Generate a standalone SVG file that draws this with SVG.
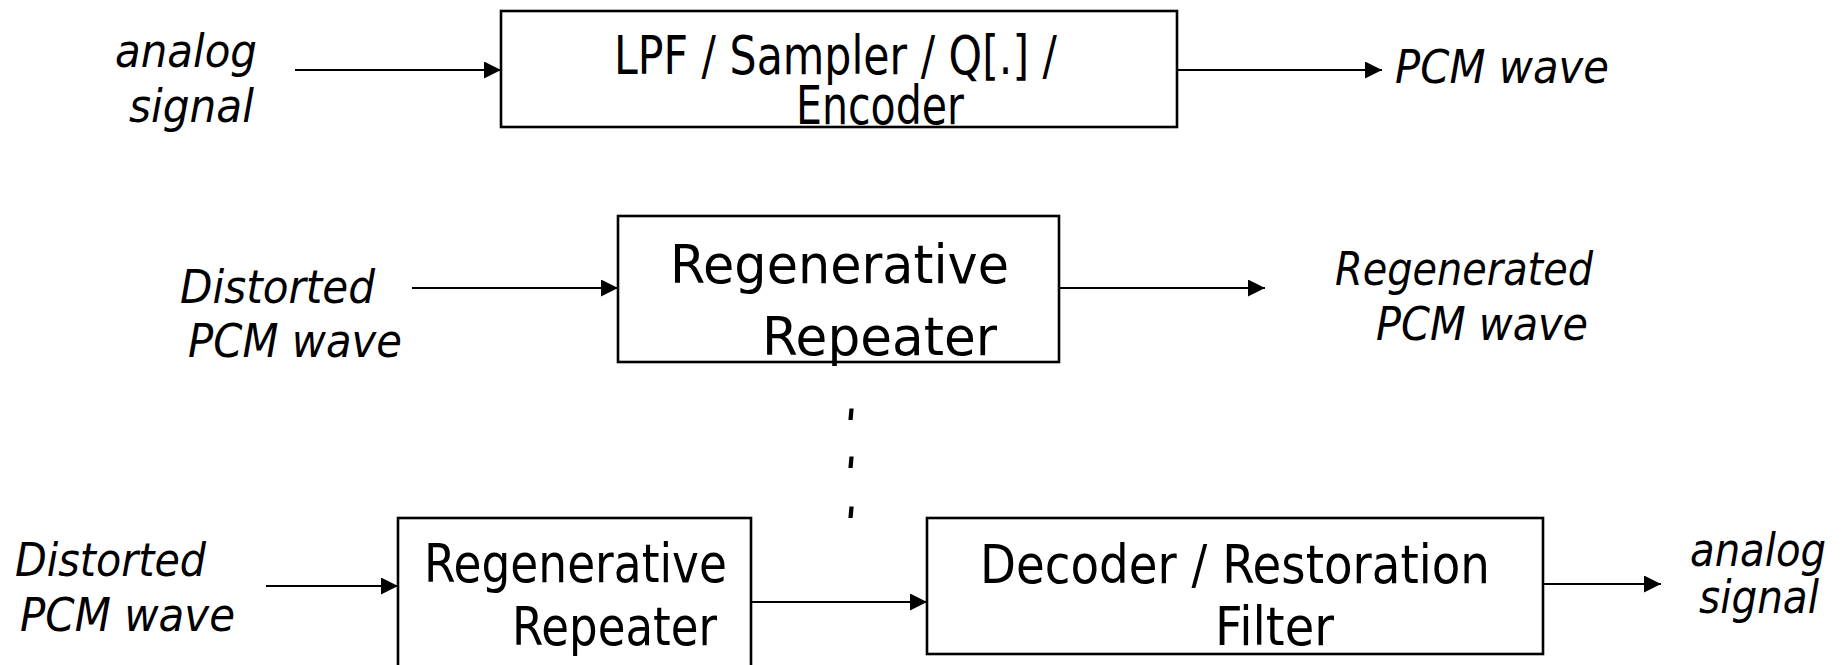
<svg xmlns="http://www.w3.org/2000/svg" width="1843" height="665" viewBox="0 0 1843 665">
  <style>
    .box { fill: #ffffff; stroke: #000000; stroke-width: 2.6; }
    .wire { fill: none; stroke: #000000; stroke-width: 2.2; }
    .blk { font-family: "DejaVu Sans", "Liberation Sans", sans-serif; font-size: 54px; fill: #000000; }
    .lbl { font-family: "DejaVu Sans", "Liberation Sans", sans-serif; font-size: 46px; font-style: italic; fill: #000000; }
  </style>
  <defs>
    <marker id="arrow" markerUnits="userSpaceOnUse" markerWidth="18" markerHeight="18" refX="17" refY="8.5" orient="auto">
      <path d="M0,0 L17,8.5 L0,17 Z" fill="#000000"/>
    </marker>
  </defs>

  <rect width="1843" height="665" fill="#ffffff"/>

  <!-- signal connectors -->
  <g id="connectors">
    <line class="wire" x1="295" y1="70" x2="501" y2="70" marker-end="url(#arrow)"/>
    <line class="wire" x1="1177" y1="70" x2="1382" y2="70" marker-end="url(#arrow)"/>
    <line class="wire" x1="412" y1="288" x2="618" y2="288" marker-end="url(#arrow)"/>
    <line class="wire" x1="1059" y1="288" x2="1265" y2="288" marker-end="url(#arrow)"/>
    <line class="wire" x1="266" y1="586" x2="398" y2="586" marker-end="url(#arrow)"/>
    <line class="wire" x1="751" y1="602" x2="927" y2="602" marker-end="url(#arrow)"/>
    <line class="wire" x1="1543" y1="584" x2="1661" y2="584" marker-end="url(#arrow)"/>
  </g>

  <!-- transmitter -->
  <g id="source-in">
    <text class="lbl" x="115" y="67" textLength="142" lengthAdjust="spacingAndGlyphs">analog</text>
    <text class="lbl" x="129" y="122" textLength="125" lengthAdjust="spacingAndGlyphs">signal</text>
  </g>
  <g id="encoder">
    <rect class="box" x="501" y="11" width="676" height="116"/>
    <text class="blk" x="614" y="74" textLength="443" lengthAdjust="spacingAndGlyphs">LPF / Sampler / Q[.] /</text>
    <text class="blk" x="796" y="124" textLength="168" lengthAdjust="spacingAndGlyphs">Encoder</text>
  </g>
  <g id="pcm-out">
    <text class="lbl" x="1395" y="83" textLength="214" lengthAdjust="spacingAndGlyphs">PCM wave</text>
  </g>

  <!-- repeater stage -->
  <g id="distorted-1">
    <text class="lbl" x="180" y="303" textLength="195" lengthAdjust="spacingAndGlyphs">Distorted</text>
    <text class="lbl" x="188" y="357" textLength="214" lengthAdjust="spacingAndGlyphs">PCM wave</text>
  </g>
  <g id="repeater-1">
    <rect class="box" x="618" y="216" width="441" height="146"/>
    <text class="blk" x="670" y="283" textLength="339" lengthAdjust="spacingAndGlyphs">Regenerative</text>
    <text class="blk" x="762" y="355" textLength="235" lengthAdjust="spacingAndGlyphs">Repeater</text>
  </g>
  <g id="regenerated">
    <text class="lbl" x="1335" y="285" textLength="258" lengthAdjust="spacingAndGlyphs">Regenerated</text>
    <text class="lbl" x="1376" y="340" textLength="212" lengthAdjust="spacingAndGlyphs">PCM wave</text>
  </g>

  <!-- continuation dots: one stretched italic text, one dot per line -->
  <g id="ellipsis">
    <text class="lbl" transform="translate(846,0) scale(0.9,2)">
      <tspan x="0" y="210">.</tspan>
      <tspan x="0" y="234">.</tspan>
      <tspan x="0" y="259">.</tspan>
    </text>
  </g>

  <!-- receiver -->
  <g id="distorted-2">
    <text class="lbl" x="15" y="576" textLength="191" lengthAdjust="spacingAndGlyphs">Distorted</text>
    <text class="lbl" x="20" y="631" textLength="215" lengthAdjust="spacingAndGlyphs">PCM wave</text>
  </g>
  <g id="repeater-2">
    <rect class="box" x="398" y="518" width="353" height="160"/>
    <text class="blk" x="424" y="582" textLength="303" lengthAdjust="spacingAndGlyphs">Regenerative</text>
    <text class="blk" x="512" y="645" textLength="205" lengthAdjust="spacingAndGlyphs">Repeater</text>
  </g>
  <g id="decoder">
    <rect class="box" x="927" y="518" width="616" height="136"/>
    <text class="blk" x="980" y="583" textLength="510" lengthAdjust="spacingAndGlyphs">Decoder / Restoration</text>
    <text class="blk" x="1215" y="645" textLength="119" lengthAdjust="spacingAndGlyphs">Filter</text>
  </g>
  <g id="analog-out">
    <text class="lbl" x="1690" y="566" textLength="136" lengthAdjust="spacingAndGlyphs">analog</text>
    <text class="lbl" x="1699" y="613" textLength="120" lengthAdjust="spacingAndGlyphs">signal</text>
  </g>
</svg>
